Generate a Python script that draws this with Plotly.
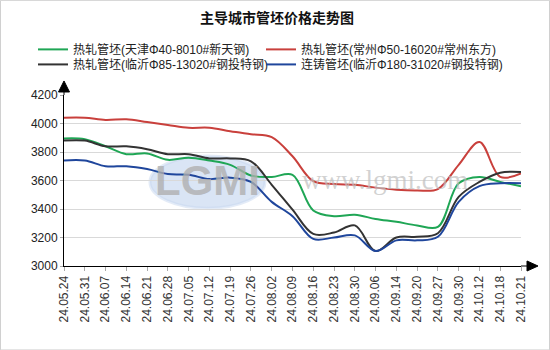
import plotly.graph_objects as go

categories = ['24.05.24', '24.05.31', '24.06.07', '24.06.14', '24.06.21', '24.06.28',
              '24.07.05', '24.07.12', '24.07.19', '24.07.26', '24.08.02', '24.08.09',
              '24.08.16', '24.08.23', '24.08.30', '24.09.06', '24.09.14', '24.09.20',
              '24.09.27', '24.09.30', '24.10.12', '24.10.18', '24.10.21']

tianjin = [3895, 3890, 3840, 3785, 3790, 3745, 3760, 3740, 3710, 3635, 3625, 3640,
           3390, 3350, 3360, 3330, 3310, 3285, 3275, 3580, 3625, 3590, 3560]
changzhou = [4040, 4040, 4025, 4030, 4010, 3990, 3970, 3970, 3945, 3925, 3905, 3770,
             3595, 3575, 3570, 3550, 3535, 3530, 3540, 3710, 3870, 3625, 3650]
linyi85 = [3880, 3880, 3840, 3840, 3820, 3785, 3785, 3755, 3755, 3735, 3570, 3395,
           3225, 3235, 3285, 3105, 3200, 3205, 3230, 3485, 3590, 3655, 3660]
linyi180 = [3740, 3740, 3700, 3700, 3680, 3645, 3640, 3610, 3620, 3590, 3450, 3350,
            3190, 3200, 3215, 3105, 3180, 3180, 3205, 3450, 3560, 3580, 3580]

series_names = ['热轧管坯(天津Φ40-8010#新天钢)', '热轧管坯(常州Φ50-16020#常州东方)',
                '热轧管坯(临沂Φ85-13020#钢投特钢)', '连铸管坯(临沂Φ180-31020#钢投特钢)']
series_values = [tianjin, changzhou, linyi85, linyi180]
colors = ['#1fa655', '#c9403c', '#333333', '#1f469c']

y_ticks = [3000, 3200, 3400, 3600, 3800, 4000, 4200]
title_text = '主导城市管坯价格走势图'

FONT = 'Liberation Sans, Arial, Noto Sans CJK SC, sans-serif'

# plot-area pixel geometry
L, R, T, B = 64, 521, 95, 265.7
W, H = 550, 350
pw, ph = R - L, B - T


def px(x):
    return (x - L) / pw


def py(y):
    return (B - y) / ph


# legend slot positions (pixel left, pixel top) for each series
legend_ids = ['legend', 'legend2', 'legend3', 'legend4']
legend_pos = [(33, 35), (261, 35), (33, 50), (261, 50)]

fig = go.Figure()
for name, vals, col, lid in zip(series_names, series_values, colors, legend_ids):
    fig.add_trace(go.Scatter(
        x=list(range(len(categories))), y=vals, name=name, mode='lines',
        line=dict(color=col, width=2, shape='spline', smoothing=1.0),
        legend=lid,
    ))

shapes = []
# outer border
shapes.append(dict(type='rect', xref='paper', yref='paper',
                   x0=px(0.5), x1=px(W - 0.5), y0=py(H - 0.5), y1=py(0.5),
                   line=dict(color='#d0d0d0', width=1), layer='below'))
# watermark logo ellipse
shapes.append(dict(type='circle', xref='paper', yref='paper',
                   x0=px(150), x1=px(265), y0=py(208), y1=py(156),
                   fillcolor='rgba(150,180,225,0.35)', line=dict(color='rgba(200,215,240,0.5)', width=3),
                   layer='below'))
# axis extensions and arrowheads
shapes.append(dict(type='line', xref='paper', yref='paper',
                   x0=1, x1=px(528), y0=0, y1=0, line=dict(color='black', width=1)))
shapes.append(dict(type='path', xref='paper', yref='paper',
                   path=f'M {px(527)} {py(B-5)} L {px(538)} {py(B)} L {px(527)} {py(B+5)} Z',
                   fillcolor='black', line=dict(color='black', width=1)))
shapes.append(dict(type='line', xref='paper', yref='paper',
                   x0=0, x1=0, y0=1, y1=py(91), line=dict(color='black', width=1)))
shapes.append(dict(type='path', xref='paper', yref='paper',
                   path=f'M {px(L-5.5)} {py(92)} L {px(L)} {py(81)} L {px(L+5.5)} {py(92)} Z',
                   fillcolor='black', line=dict(color='black', width=1)))

annotations = [
    dict(text='www.lgmi.com', xref='paper', yref='paper', x=px(385), y=py(180),
         xanchor='center', yanchor='middle', showarrow=False,
         font=dict(family='Liberation Serif, serif', size=27, color='rgba(190,190,190,0.7)')),
    dict(text='<b>LGMI</b>', xref='paper', yref='paper', x=px(207), y=py(180),
         xanchor='center', yanchor='middle', showarrow=False,
         font=dict(family='Liberation Sans Narrow, Liberation Sans, sans-serif', size=42,
                   color='rgba(175,175,175,0.8)')),
]

legend_layouts = {}
for lid, (lx, ly) in zip(legend_ids, legend_pos):
    legend_layouts[lid] = dict(
        orientation='v', x=px(lx), y=py(ly), xanchor='left', yanchor='top',
        font=dict(family=FONT, size=12, color='#222222'),
        bgcolor='rgba(0,0,0,0)', itemwidth=30,
    )

fig.update_layout(
    width=W, height=H,
    margin=dict(l=L, r=W - R, t=T, b=H - B, pad=0),
    paper_bgcolor='white', plot_bgcolor='white',
    font=dict(family=FONT, size=12, color='#222222'),
    title=dict(text=f'<b>{title_text}</b>', x=277 / W, xanchor='center',
               y=1 - 18 / H, yanchor='middle', yref='container',
               font=dict(family='Noto Sans CJK SC, sans-serif', size=14, color='#111111')),
    showlegend=True,
    xaxis=dict(range=[0, len(categories) - 1], tickmode='array',
               tickvals=list(range(len(categories))), ticktext=categories,
               tickangle=-90, showgrid=False, zeroline=False,
               showline=True, linecolor='black', linewidth=1,
               ticks='outside', ticklen=4, tickcolor='#aaaaaa',
               tickfont=dict(family=FONT, size=12, color='#333333')),
    yaxis=dict(range=[3000, 4200], tickmode='array', tickvals=y_ticks,
               showgrid=True, gridcolor='#d9d9d9', gridwidth=1, zeroline=False,
               showline=True, linecolor='black', linewidth=1,
               ticks='outside', ticklen=3, tickcolor='#aaaaaa',
               tickfont=dict(family=FONT, size=12, color='#222222')),
    shapes=shapes,
    annotations=annotations,
    **legend_layouts,
)

fig.write_html('out.html')
